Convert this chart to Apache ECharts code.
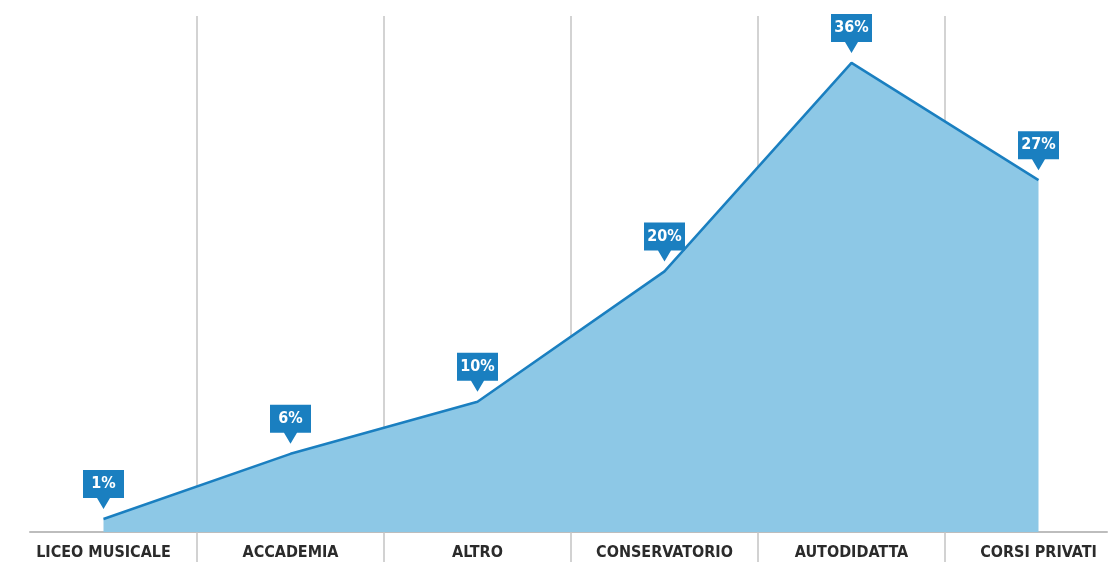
<!DOCTYPE html>
<html>
<head>
<meta charset="utf-8">
<script src="https://cdn.jsdelivr.net/npm/echarts@6/dist/echarts.min.js"></script>
<style>
  html, body { margin: 0; padding: 0; background: #ffffff; overflow: hidden; }
  /* the drawing surface runs slightly past the right edge of the window */
  #chart { width: 1132px; height: 564px; }
</style>
</head>
<body>
<div id="chart"></div>
<script>
// Percentuale per percorso di formazione musicale
const categories = ['LICEO MUSICALE', 'ACCADEMIA', 'ALTRO', 'CONSERVATORIO', 'AUTODIDATTA', 'CORSI PRIVATI'];
const percentages = [1, 6, 10, 20, 36, 27];

const FONT = "'Liberation Sans Narrow', 'DejaVu Sans Condensed', 'Arial Narrow', sans-serif";
const BLUE = '#1a7fc0';
const FILL = '#8dc8e6';
const GRID_GRAY = '#c4c4c4';

// Callout shape: box with a small pointer underneath
const CALLOUT = 'path://M0 0H41V28H27L20.5 39L14 28H0Z';

const chart = echarts.init(document.getElementById('chart'), null, { renderer: 'canvas' });

chart.setOption({
  animation: false,
  backgroundColor: '#ffffff',
  grid: [
    { left: 10, right: 0, top: 16, bottom: 32, containLabel: false },
    { left: 30, right: 25, top: 16, bottom: 32, containLabel: false }
  ],
  xAxis: [
    {
      type: 'category',
      gridIndex: 0,
      data: categories,
      boundaryGap: true,
      axisLine: { show: false },
      axisTick: {
        show: true,
        length: 30,
        interval: function (index) { return index !== 0; },
        lineStyle: { color: GRID_GRAY, width: 1.5 }
      },
      splitLine: {
        show: true,
        interval: 0,
        showMinLine: false,
        showMaxLine: false,
        lineStyle: { color: GRID_GRAY, width: 1.5 }
      },
      axisLabel: {
        interval: 0,
        margin: 13,
        color: '#2b2b2b',
        fontFamily: FONT,
        fontWeight: 'bold',
        fontSize: 16
      }
    },
    {
      type: 'value',
      gridIndex: 1,
      min: 0,
      max: 1,
      axisLine: { show: true, lineStyle: { color: '#bdbdbd', width: 2 } },
      axisTick: { show: false },
      axisLabel: { show: false },
      splitLine: { show: false }
    }
  ],
  yAxis: [
    {
      type: 'value',
      gridIndex: 0,
      min: 0,
      max: 39.6,
      show: false,
      splitLine: { show: false }
    },
    {
      type: 'value',
      gridIndex: 1,
      min: 0,
      max: 1,
      show: false,
      splitLine: { show: false }
    }
  ],
  series: [
    {
      type: 'line',
      xAxisIndex: 0,
      yAxisIndex: 0,
      data: percentages,
      smooth: false,
      clip: false,
      z: 3,
      lineStyle: { color: BLUE, width: 2.5 },
      areaStyle: { color: FILL, opacity: 1 },
      itemStyle: { color: BLUE, borderWidth: 0 },
      symbol: CALLOUT,
      symbolSize: [41, 39],
      symbolOffset: [0, -29.5],
      showAllSymbol: true,
      label: {
        show: true,
        position: 'inside',
        offset: [0, -5.5],
        formatter: function (p) { return p.value + '%'; },
        color: '#ffffff',
        fontFamily: FONT,
        fontWeight: 'bold',
        fontSize: 16
      },
      emphasis: { disabled: true }
    }
  ]
});
</script>
</body>
</html>
